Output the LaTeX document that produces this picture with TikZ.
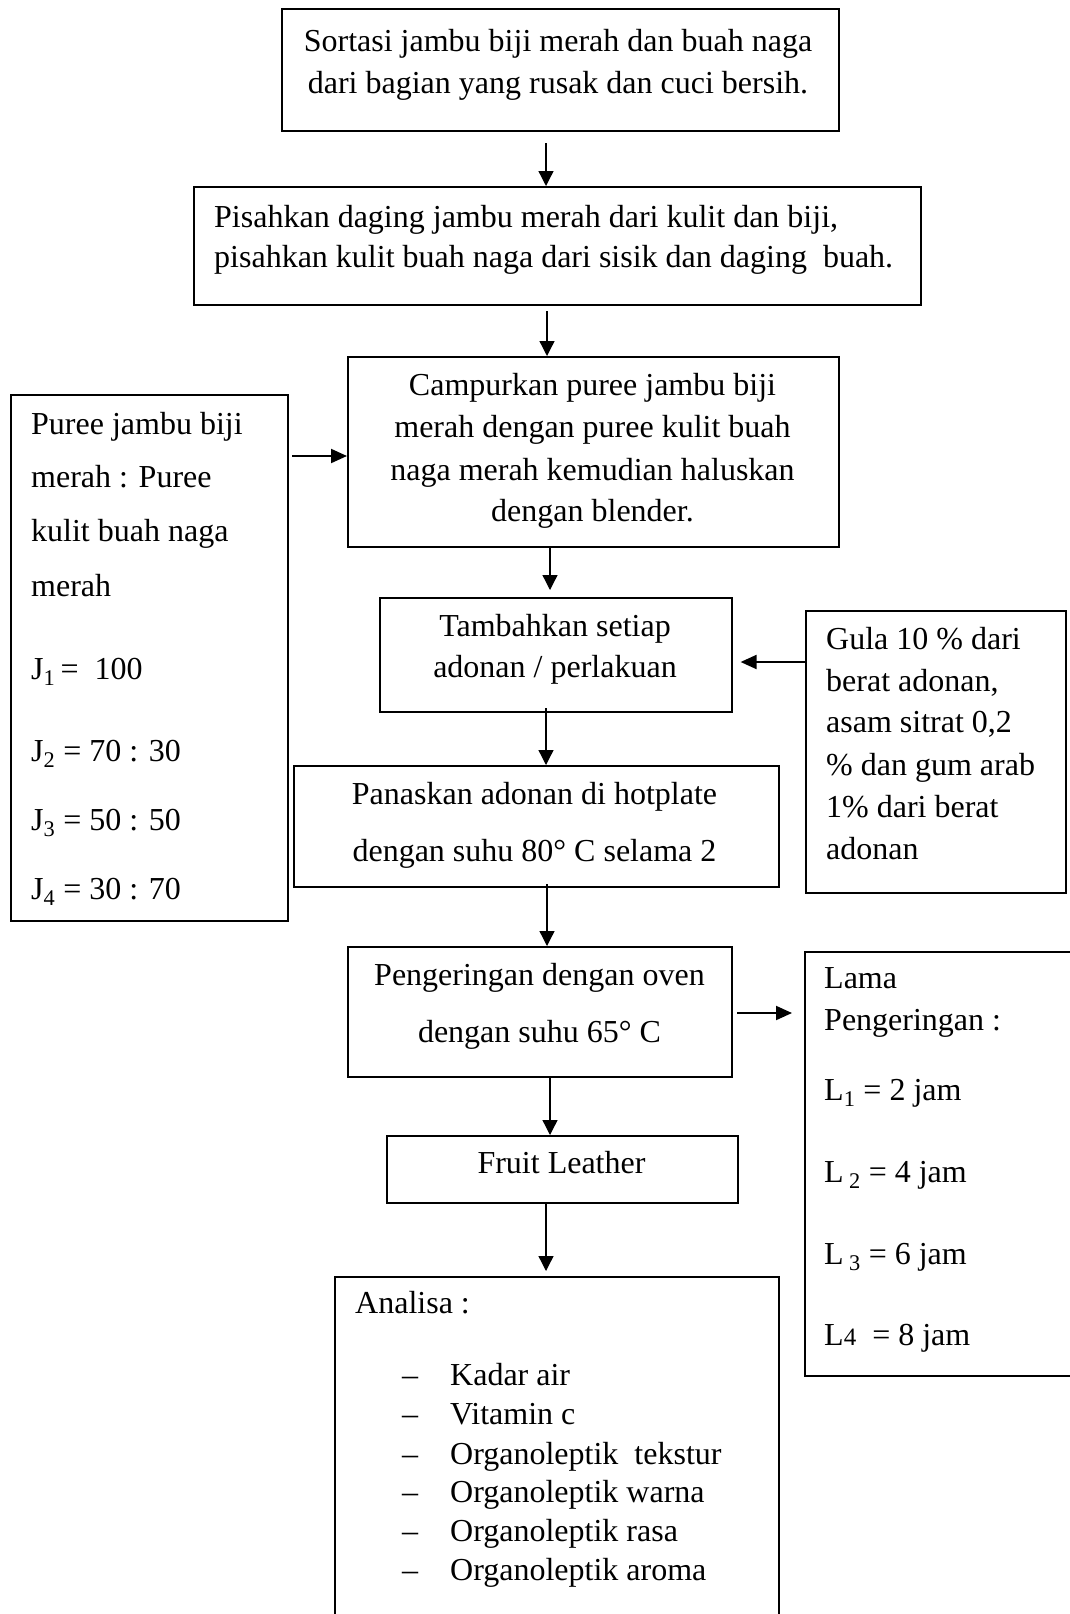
\documentclass[tikz,border=0pt]{standalone}
\usepackage{fontspec}
\setmainfont{Liberation Serif}
\usetikzlibrary{arrows.meta}
\begin{document}
\begin{tikzpicture}[x=1pt,y=-1pt,
  box/.style={draw, line width=1.6pt, rectangle, inner sep=0pt, anchor=north west},
  txt/.style={inner sep=0pt, font=\fontsize{32}{38}\selectfont},
  tc/.style={txt, anchor=base},
  tl/.style={txt, anchor=base west},
  arr/.style={line width=1.3pt, -{Triangle[length=15pt,width=15pt]}},
  arrh/.style={line width=2pt, -{Triangle[length=16pt,width=14pt]}}]
\useasboundingbox (0,0) rectangle (1070,1614);

% boxes
\node[box, minimum width=557pt, minimum height=122pt] (b1) at (281,8) {};
\node[box, minimum width=727pt, minimum height=118pt] (b2) at (193,186) {};
\node[box, minimum width=491pt, minimum height=190pt] (b3) at (347,356) {};
\node[box, minimum width=277pt, minimum height=526pt] (bL) at (10,394) {};
\node[box, minimum width=352pt, minimum height=114pt] (b4) at (379,597) {};
\node[box, minimum width=260pt, minimum height=282pt] (bG) at (805,610) {};
\node[box, minimum width=485pt, minimum height=121pt] (b5) at (293,765) {};
\node[box, minimum width=384pt, minimum height=130pt] (b6) at (347,946) {};
\node[box, minimum width=270pt, minimum height=424pt] (bM) at (804,951) {};
\node[box, minimum width=351pt, minimum height=67pt] (b7) at (386,1135) {};
\node[box, minimum width=444pt, minimum height=350pt] (b8) at (334,1276) {};

% texts
\node[tc] (t1a) at (558,51) {Sortasi jambu biji merah dan buah naga};
\node[tc] (t1b) at (558,93) {dari bagian yang rusak dan cuci bersih.};

\node[tl] (t2a) at (214,227) {Pisahkan daging jambu merah dari kulit dan biji,};
\node[tl] (t2b) at (214,267) {pisahkan kulit buah naga dari sisik dan daging\ \ buah.};

\node[tc] (t3a) at (592.5,395) {Campurkan puree jambu biji};
\node[tc] (t3b) at (592.5,437.5) {merah dengan puree kulit buah};
\node[tc] (t3c) at (592.5,480) {naga merah kemudian haluskan};
\node[tc] (t3d) at (592.5,521) {dengan blender.};

\node[tl] (tLa) at (31,434) {Puree jambu biji};
\node[tl] (tLb) at (31,487.5) {merah : Puree};
\node[tl] (tLc) at (31,541) {kulit buah naga};
\node[tl] (tLd) at (31,596) {merah};
\node[tl] (tLe) at (31,679) {J\textsubscript{1}\,=\ \ 100};
\node[tl] (tLf) at (31,761) {J\textsubscript{2} = 70 : 30};
\node[tl] (tLg) at (31,830) {J\textsubscript{3} = 50 : 50};
\node[tl] (tLh) at (31,899) {J\textsubscript{4} = 30 : 70};

\node[tc] (t4a) at (555,636) {Tambahkan setiap};
\node[tc] (t4b) at (555,677) {adonan / perlakuan};

\node[tl] (tGa) at (826,649) {Gula 10 \% dari};
\node[tl] (tGb) at (826,691) {berat adonan,};
\node[tl] (tGc) at (826,732) {asam sitrat 0,2};
\node[tl] (tGd) at (826,775) {\% dan gum arab};
\node[tl] (tGe) at (826,817.5) {1\% dari berat};
\node[tl] (tGf) at (826,859.5) {adonan};

\node[tc] (t5a) at (534.5,804.5) {Panaskan adonan di hotplate};
\node[tc] (t5b) at (534.5,861) {dengan suhu 80° C selama 2};

\node[tc] (t6a) at (539.5,985) {Pengeringan dengan oven};
\node[tc] (t6b) at (539.5,1042) {dengan suhu 65° C};

\node[tl] (tMa) at (824,988.5) {Lama};
\node[tl] (tMb) at (824,1030) {Pengeringan :};
\node[tl] (tMc) at (824,1100) {L\textsubscript{1} = 2 jam};
\node[tl] (tMd) at (824,1182) {L\,\textsubscript{2} = 4 jam};
\node[tl] (tMe) at (824,1264) {L\,\textsubscript{3} = 6 jam};
\node[tl] (tMf) at (824,1345.5) {L{\fontsize{25}{25}\selectfont 4}\ \ = 8 jam};

\node[tc] (t7) at (561.5,1173.5) {Fruit Leather};

\node[tl] (t8) at (355,1313) {Analisa :};
\foreach \i/\yy/\s in {1/1385/Kadar air, 2/1424/Vitamin c, 3/1464/Organoleptik\ \ tekstur,
  4/1502/Organoleptik warna, 5/1541.5/Organoleptik rasa, 6/1580.5/Organoleptik aroma}{
  \node[tc] (d\i) at (410,\yy) {–};
  \node[tl] (e\i) at (450,\yy) {\s};
}

% connectors
\coordinate (a1) at (546,143);
\draw[arr] (a1) -- (a1 |- b2.north);
\coordinate (a2) at (547,311);
\draw[arr] (a2) -- (a2 |- b3.north);
\coordinate (aL) at (292,456);
\draw[arrh] (aL) -- (aL -| b3.west);
\coordinate (a3) at (550,546);
\draw[arr, shorten >=7pt] (a3) -- (a3 |- b4.north);
\coordinate (aG) at (806,662);
\draw[arrh, shorten >=8pt] (aG) -- (aG -| b4.east);
\coordinate (a4) at (546,708);
\draw[arr] (a4) -- (a4 |- b5.north);
\coordinate (a5) at (547,884);
\draw[arr] (a5) -- (a5 |- b6.north);
\coordinate (a6) at (737,1013);
\draw[arrh, shorten >=12pt] (a6) -- (a6 -| bM.west);
\coordinate (a7) at (550,1076);
\draw[arr] (a7) -- (a7 |- b7.north);
\coordinate (a8) at (546,1204);
\draw[arr, shorten >=5pt] (a8) -- (a8 |- b8.north);
\end{tikzpicture}
\end{document}
